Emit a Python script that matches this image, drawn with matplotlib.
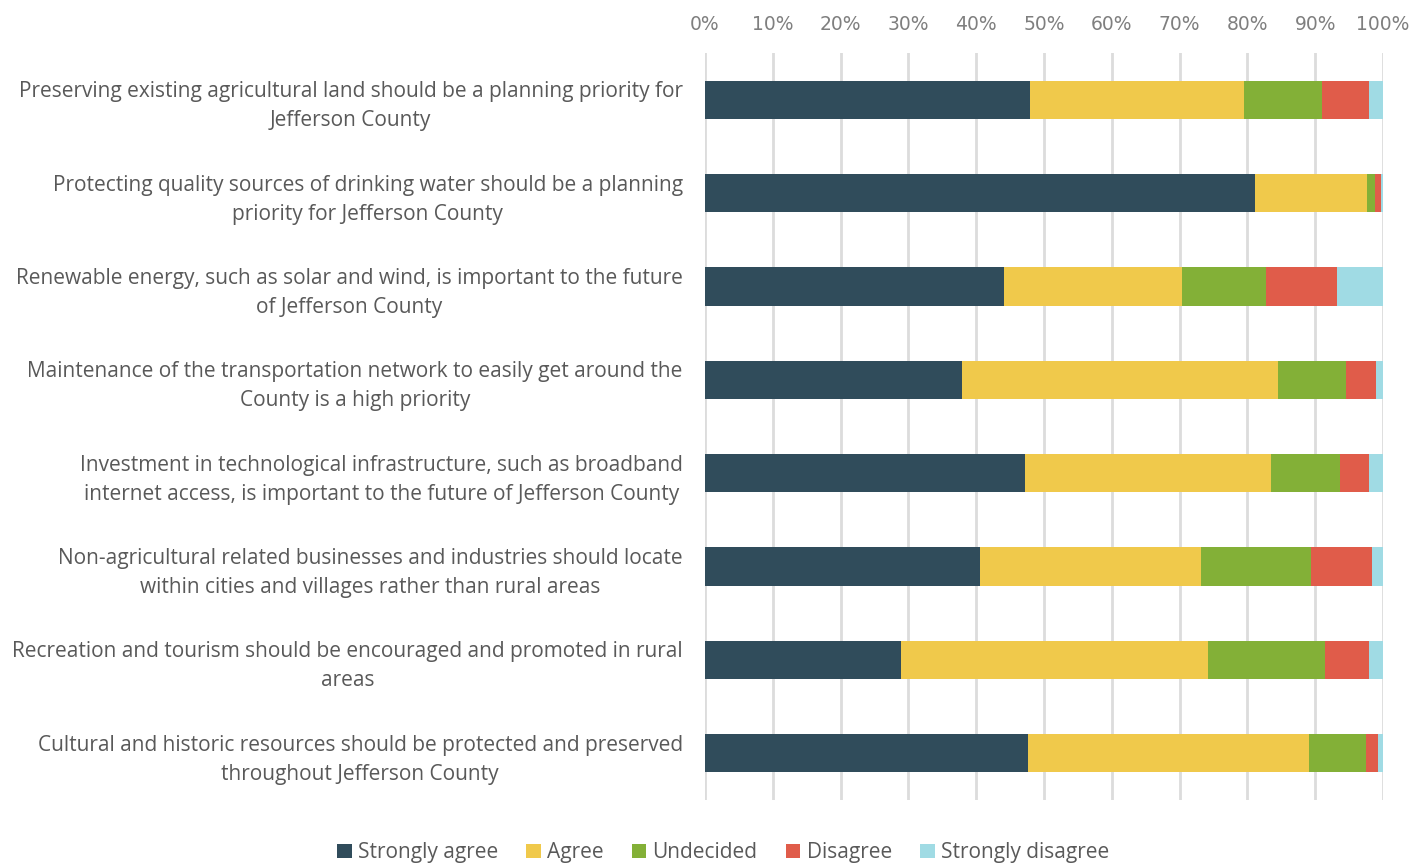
import numpy as np
import matplotlib.pyplot as plt

# 回答カテゴリと各設問の割合 (%)
statements = [
    "Preserving existing agricultural land should be a planning priority for\nJefferson County",
    "Protecting quality sources of drinking water should be a planning\npriority for Jefferson County",
    "Renewable energy, such as solar and wind, is important to the future\nof Jefferson County",
    "Maintenance of the transportation network to easily get around the\nCounty is a high priority",
    "Investment in technological infrastructure, such as broadband\ninternet access, is important to the future of Jefferson County",
    "Non-agricultural related businesses and industries should locate\nwithin cities and villages rather than rural areas",
    "Recreation and tourism should be encouraged and promoted in rural\nareas",
    "Cultural and historic resources should be protected and preserved\nthroughout Jefferson County",
]
responses = ["Strongly agree", "Agree", "Undecided", "Disagree", "Strongly disagree"]

strongly_agree = [47.9, 81.1, 44.1, 37.9, 47.2, 40.6, 28.9, 47.6]
agree = [31.6, 16.5, 26.3, 46.6, 36.3, 32.6, 45.3, 41.5]
undecided = [11.5, 1.2, 12.3, 10.0, 10.2, 16.2, 17.2, 8.4]
disagree = [6.9, 0.9, 10.5, 4.5, 4.2, 9.0, 6.5, 1.8]
strongly_disagree = [2.1, 0.3, 6.8, 1.0, 2.1, 1.6, 2.1, 0.7]

colors = ["#304C5B", "#F0C94B", "#83B037", "#E05C4A", "#A0DBE4"]

series = [strongly_agree, agree, undecided, disagree, strongly_disagree]

fig = plt.figure(figsize=(14.26, 8.63), dpi=100)
ax = fig.add_axes([0.4944, 0.073, 0.4755, 0.8656])

y = np.arange(len(statements))
left = np.zeros(len(statements))
for name, vals, col in zip(responses, series, colors):
    vals = np.array(vals)
    ax.barh(y, vals, left=left, height=0.41, color=col, label=name, zorder=3)
    left += vals

ax.set_xlim(0, 100)
ax.set_ylim(len(statements) - 0.5, -0.5)
ax.set_xticks(np.arange(0, 101, 10))
ax.set_xticklabels([f"{v}%" for v in range(0, 101, 10)])
ax.xaxis.tick_top()
ax.tick_params(axis="x", length=0, pad=14, labelsize=13.5, labelcolor="#7F7F7F")
ax.set_yticks(y)
ax.set_yticklabels(statements, fontsize=15, color="#595959", family="Open Sans",
                   linespacing=1.5)
ax.tick_params(axis="y", length=0, pad=16)
for lab in ax.get_yticklabels():
    lab.set_horizontalalignment("right")
    lab.set_multialignment("center")
    lab.set_y(lab.get_position()[1])

ax.grid(axis="x", color="#DCDCDC", linewidth=2, zorder=0)
for s in ax.spines.values():
    s.set_visible(False)

fig.legend(loc="lower center", bbox_to_anchor=(0.507, -0.022), ncol=5, frameon=False,
           handlelength=0.7, handleheight=0.7, handletextpad=0.3,
           columnspacing=1.35, labelcolor="#595959", prop={"family": "Open Sans", "size": 15})

fig.savefig("out.png", dpi=100)
